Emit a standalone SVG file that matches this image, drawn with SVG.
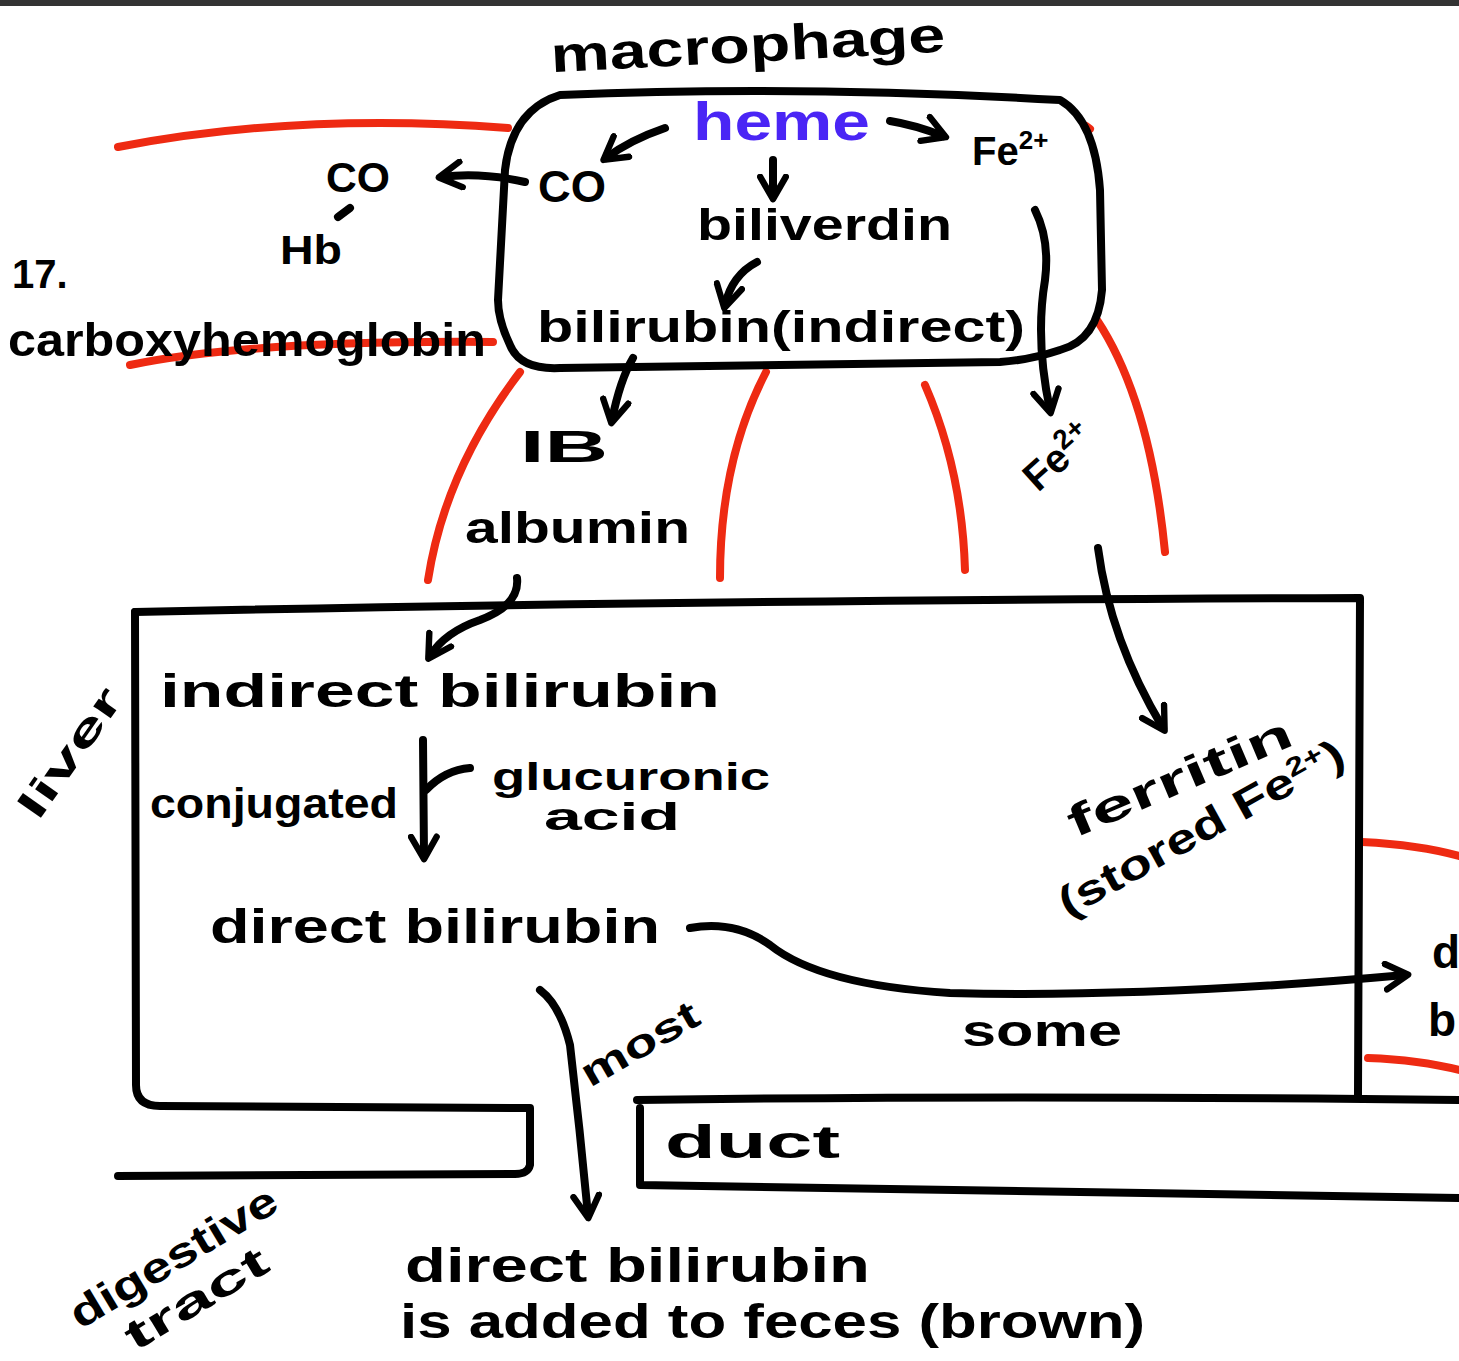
<svg xmlns="http://www.w3.org/2000/svg" width="1459" height="1361" viewBox="0 0 1459 1361">
<defs>
<style>
.t{font-family:"Liberation Sans",Arial,sans-serif;font-weight:bold;fill:#000;}
.k{fill:none;stroke:#000;stroke-width:8;stroke-linecap:round;stroke-linejoin:round;}
.r{fill:none;stroke:#ee2a12;stroke-width:8;stroke-linecap:round;}
</style>
<marker id="ah" viewBox="0 0 10 10" refX="7" refY="5" markerWidth="4" markerHeight="4" orient="auto-start-reverse">
<path d="M1,1 L8,5 L1,9" fill="none" stroke="#000" stroke-width="2" stroke-linecap="round" stroke-linejoin="round"/>
</marker>
</defs>
<rect width="1459" height="1361" fill="#fff"/>
<rect width="1459" height="6" fill="#333"/>

<g id="red-lines">
<path class="r" d="M118,147 Q300,112 508,128"/>
<path class="r" d="M130,365 Q250,340 493,342"/>
<path class="r" d="M1086,126 L1090,129"/>
<path class="r" d="M520,372 Q445,470 428,580"/>
<path class="r" d="M766,372 Q720,460 720,578"/>
<path class="r" d="M925,385 Q962,470 965,570"/>
<path class="r" d="M1097,320 Q1150,400 1165,552"/>
<path class="r" d="M1362,842 Q1420,845 1459,856"/>
<path class="r" d="M1368,1058 Q1420,1060 1459,1070"/>
</g>

<g id="macrophage">
<path class="k" d="M560,95 Q800,85 1060,100 Q1095,120 1100,190 L1102,290 Q1098,340 1060,350 Q1030,360 1000,362 L560,368 Q520,370 510,345 Q498,320 498,300 L505,170 Q512,110 560,95 Z"/>
<text class="t" x="748" y="62" font-size="50" text-anchor="middle" textLength="395" lengthAdjust="spacingAndGlyphs" transform="rotate(-3 748 50)">macrophage</text>
<text class="t" x="693" y="140" font-size="54" style="fill:#4a25f5" textLength="177" lengthAdjust="spacingAndGlyphs">heme</text>
<text class="t" x="538" y="202" font-size="44" textLength="68" lengthAdjust="spacingAndGlyphs">CO</text>
<text class="t" x="972" y="165" font-size="40">Fe<tspan font-size="26" dy="-16">2+</tspan></text>
<text class="t" x="697" y="240" font-size="44" textLength="255" lengthAdjust="spacingAndGlyphs">biliverdin</text>
<text class="t" x="537" y="342" font-size="44" textLength="488" lengthAdjust="spacingAndGlyphs">bilirubin(indirect)</text>
</g>

<g id="carboxyhemoglobin">
<text class="t" x="326" y="192" font-size="42" textLength="64" lengthAdjust="spacingAndGlyphs">CO</text>
<text class="t" x="280" y="264" font-size="40" textLength="62" lengthAdjust="spacingAndGlyphs">Hb</text>
<text class="t" x="12" y="288" font-size="40">17.</text>
<text class="t" x="8" y="356" font-size="46" textLength="478" lengthAdjust="spacingAndGlyphs">carboxyhemoglobin</text>
</g>

<g id="ib-albumin">
<text class="t" x="520" y="462" font-size="44" textLength="88" lengthAdjust="spacingAndGlyphs">IB</text>
<text class="t" x="465" y="543" font-size="44" textLength="225" lengthAdjust="spacingAndGlyphs">albumin</text>
</g>

<g id="fe-transport">
<text class="t" x="1038" y="493" font-size="40" transform="rotate(-42 1038 493)">Fe<tspan font-size="28" dy="-14">2+</tspan></text>
</g>

<g id="liver">
<path class="k" d="M135,612 Q700,600 1360,598 L1358,1095"/>
<path class="k" d="M135,612 L136,1085 Q136,1106 160,1106 L530,1108 L530,1165 Q528,1174 515,1174 L118,1176"/>
<text class="t" x="38" y="822" font-size="40" transform="rotate(-55 38 822)" textLength="150" lengthAdjust="spacingAndGlyphs">liver</text>
<text class="t" x="160" y="707" font-size="46" textLength="560" lengthAdjust="spacingAndGlyphs">indirect bilirubin</text>
<text class="t" x="150" y="818" font-size="42" textLength="248" lengthAdjust="spacingAndGlyphs">conjugated</text>
<text class="t" x="492" y="790" font-size="38" textLength="278" lengthAdjust="spacingAndGlyphs">glucuronic</text>
<text class="t" x="544" y="830" font-size="38" textLength="136" lengthAdjust="spacingAndGlyphs">acid</text>
<text class="t" x="210" y="943" font-size="48" textLength="450" lengthAdjust="spacingAndGlyphs">direct bilirubin</text>
<text class="t" x="1075" y="838" font-size="44" transform="rotate(-23 1075 838)" textLength="240" lengthAdjust="spacingAndGlyphs">ferritin</text>
<text class="t" x="1068" y="918" font-size="42" transform="rotate(-29 1068 918)" textLength="320" lengthAdjust="spacingAndGlyphs">(stored Fe<tspan font-size="26" dy="-14">2+</tspan><tspan dy="14">)</tspan></text>
<text class="t" x="590" y="1088" font-size="40" transform="rotate(-30 590 1088)" textLength="130" lengthAdjust="spacingAndGlyphs">most</text>
<text class="t" x="962" y="1046" font-size="44" textLength="160" lengthAdjust="spacingAndGlyphs">some</text>
</g>

<g id="duct">
<path class="k" d="M637,1100 Q1000,1095 1459,1100"/>
<path class="k" d="M640,1108 L640,1185 Q1000,1190 1459,1198"/>
<text class="t" x="665" y="1158" font-size="46" textLength="175" lengthAdjust="spacingAndGlyphs">duct</text>
</g>

<g id="digestive-tract">
<text class="t" x="80" y="1330" font-size="42" transform="rotate(-31 80 1330)" textLength="235" lengthAdjust="spacingAndGlyphs">digestive</text>
<text class="t" x="135" y="1352" font-size="42" transform="rotate(-31 135 1352)" textLength="160" lengthAdjust="spacingAndGlyphs">tract</text>
<text class="t" x="405" y="1282" font-size="48" textLength="465" lengthAdjust="spacingAndGlyphs">direct bilirubin</text>
<text class="t" x="400" y="1338" font-size="48" textLength="745" lengthAdjust="spacingAndGlyphs">is added to feces (brown)</text>
</g>

<g id="blood-partial">
<text class="t" x="1432" y="968" font-size="46">d</text>
<text class="t" x="1428" y="1036" font-size="46">b</text>
</g>

<g id="connectors">
<path class="k" d="M665,128 Q630,140 606,158" marker-end="url(#ah)"/>
<path class="k" d="M890,121 Q915,125 943,136" marker-end="url(#ah)"/>
<path class="k" d="M773,160 L773,196" marker-end="url(#ah)"/>
<path class="k" d="M757,262 Q732,275 725,305" marker-end="url(#ah)"/>
<path class="k" d="M525,182 Q480,172 442,177" marker-end="url(#ah)"/>
<path class="k" d="M350,208 L338,217"/>
<path class="k" d="M633,358 Q620,380 612,420" marker-end="url(#ah)"/>
<path class="k" d="M1035,210 Q1050,240 1045,280 Q1035,340 1050,410" marker-end="url(#ah)"/>
<path class="k" d="M517,578 Q520,605 480,620 Q445,632 430,656" marker-end="url(#ah)"/>
<path class="k" d="M1098,548 Q1110,640 1163,728" marker-end="url(#ah)"/>
<path class="k" d="M423,740 L424,856" marker-end="url(#ah)"/>
<path class="k" d="M470,768 Q445,770 426,790"/>
<path class="k" d="M690,928 Q735,920 770,945 Q820,985 950,993 Q1150,998 1405,975" marker-end="url(#ah)"/>
<path class="k" d="M540,990 Q560,1005 570,1045 Q580,1130 588,1215" marker-end="url(#ah)"/>
</g>
</svg>
